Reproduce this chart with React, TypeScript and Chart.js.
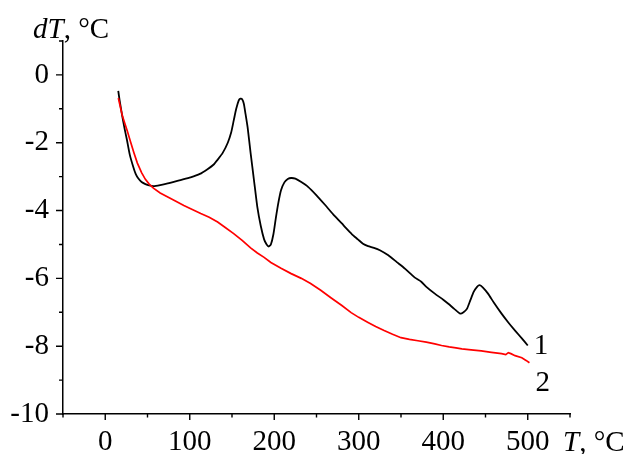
import React, { useEffect, useRef } from "react";
import { Chart, registerables } from "chart.js";

Chart.register(...registerables);

// Curve 1 (black)
const curve1T = [
  15.4, 17, 20, 23, 25.7, 29, 33, 36, 39, 43, 47.5, 52, 57, 65, 74, 89, 101, 112, 121, 128,
  133, 139, 145, 149, 152, 155, 158, 160, 162, 164, 166, 168.5, 172, 176, 180, 184, 188, 191,
  193.5, 196, 199, 202, 205, 208, 212, 216, 220, 225, 232, 240, 250, 260, 270, 280, 285, 292,
  299, 305, 311, 318, 325, 335, 345, 355, 366, 374, 380, 390, 400, 406, 413, 420, 424, 428,
  432, 436, 440, 443, 447, 453, 460, 469, 477, 485, 493, 500,
];
const curve1dT = [
  -0.47, -0.75, -1.2, -1.6, -1.92, -2.35, -2.7, -2.92, -3.05, -3.16, -3.22, -3.26, -3.28, -3.25,
  -3.2, -3.1, -3.02, -2.92, -2.78, -2.65, -2.5, -2.3, -2.0, -1.7, -1.35, -1.0, -0.75, -0.7,
  -0.72, -0.85, -1.15, -1.55, -2.3, -3.1, -3.9, -4.45, -4.85, -5.0, -5.06, -5.0, -4.7, -4.2,
  -3.75, -3.4, -3.17, -3.07, -3.04, -3.06, -3.16, -3.3, -3.55, -3.83, -4.12, -4.38, -4.52,
  -4.7, -4.85, -4.98, -5.05, -5.1, -5.17, -5.32, -5.52, -5.72, -5.97, -6.1, -6.25, -6.45,
  -6.63, -6.75, -6.9, -7.04, -7.0, -6.9, -6.65, -6.4, -6.25, -6.2, -6.27, -6.45, -6.72, -7.04,
  -7.3, -7.54, -7.77, -7.98,
];

// Curve 2 (red)
const curve2T = [
  15.5, 20, 23, 26, 30, 34, 38, 43, 47.5, 52, 57, 65, 74, 83, 93, 103, 113, 123, 133, 142, 152,
  162, 172, 180, 188, 196, 208, 220, 232, 243, 255, 267, 280, 291, 300, 311, 320, 330, 340,
  350, 360, 370, 380, 390, 398, 407, 415, 422, 433, 445, 457, 469, 474, 477, 480, 485, 493,
  498, 502,
];
const curve2dT = [
  -0.68, -1.18, -1.42, -1.65, -1.98, -2.3, -2.6, -2.88, -3.08, -3.22, -3.34, -3.48, -3.6,
  -3.72, -3.85, -3.97, -4.09, -4.2, -4.34, -4.5, -4.68, -4.88, -5.1, -5.25, -5.38, -5.53,
  -5.7, -5.86, -6.0, -6.15, -6.35, -6.57, -6.8, -7.01, -7.15, -7.3, -7.42, -7.54, -7.65,
  -7.75, -7.8, -7.84, -7.88, -7.93, -7.98, -8.02, -8.05, -8.08, -8.11, -8.14, -8.18, -8.22,
  -8.25, -8.19, -8.22, -8.28, -8.34, -8.42, -8.49,
];

const xMajorTicks = [0, 100, 200, 300, 400, 500];
const xMinorTicks = [-50, 50, 150, 250, 350, 450, 550];
const yMajorTicks = [-10, -8, -6, -4, -2, 0];
const yMinorTicks = [-9, -7, -5, -3, -1, 1];

const FONT = '"Liberation Serif", "Times New Roman", serif';
const FS = 29;

const decorPlugin = {
  id: "decor",
  afterDraw(chart: any) {
    const { ctx, chartArea } = chart;
    const x = chart.scales.x;
    const y = chart.scales.y;
    ctx.save();
    ctx.strokeStyle = "#000";
    ctx.lineWidth = 1.4;
    ctx.beginPath();
    const b = chartArea.bottom;
    const l = chartArea.left;
    xMajorTicks.forEach((v) => {
      const p = x.getPixelForValue(v);
      ctx.moveTo(p, b);
      ctx.lineTo(p, b + 6);
    });
    xMinorTicks.forEach((v) => {
      const p = x.getPixelForValue(v);
      ctx.moveTo(p, b);
      ctx.lineTo(p, b + 3.5);
    });
    yMajorTicks.forEach((v) => {
      const p = y.getPixelForValue(v);
      ctx.moveTo(l, p);
      ctx.lineTo(l - 7, p);
    });
    yMinorTicks.forEach((v) => {
      const p = y.getPixelForValue(v);
      ctx.moveTo(l, p);
      ctx.lineTo(l - 4, p);
    });
    ctx.stroke();

    ctx.fillStyle = "#000";
    ctx.textBaseline = "alphabetic";
    ctx.textAlign = "left";
    // Y title
    ctx.font = `italic ${FS}px ${FONT}`;
    ctx.fillText("dT", 33, 38);
    let w = ctx.measureText("dT").width;
    ctx.font = `${FS}px ${FONT}`;
    ctx.fillText(", °C", 33 + w, 38);
    // X title
    ctx.font = `italic ${FS}px ${FONT}`;
    ctx.fillText("T", 563, 451);
    w = ctx.measureText("T").width;
    ctx.font = `${FS}px ${FONT}`;
    ctx.fillText(", °C", 563 + w, 451);
    // Curve labels
    const e1x = x.getPixelForValue(curve1T[curve1T.length - 1]);
    const e1y = y.getPixelForValue(curve1dT[curve1dT.length - 1]);
    ctx.fillText("1", e1x + 6, e1y + 8);
    const e2x = x.getPixelForValue(curve2T[curve2T.length - 1]);
    const e2y = y.getPixelForValue(curve2dT[curve2dT.length - 1]);
    ctx.fillText("2", e2x + 6, e2y + 28);
    ctx.restore();
  },
};

export default function App() {
  const ref = useRef<HTMLCanvasElement | null>(null);
  useEffect(() => {
    if (!ref.current) return;
    const chart = new Chart(ref.current, {
      type: "line",
      data: {
        datasets: [
          {
            data: curve2T.map((t, i) => ({ x: t, y: curve2dT[i] })),
            borderColor: "#ff0000",
            borderWidth: 1.7,
            pointRadius: 0,
            tension: 0,
            order: 0,
          },
          {
            data: curve1T.map((t, i) => ({ x: t, y: curve1dT[i] })),
            borderColor: "#000000",
            borderWidth: 1.8,
            pointRadius: 0,
            tension: 0.2,
            order: 1,
          },
        ],
      },
      options: {
        responsive: false,
        animation: false,
        devicePixelRatio: 1,
        layout: { padding: { top: 41, right: 58, left: 0, bottom: 0 } },
        plugins: { legend: { display: false }, tooltip: { enabled: false }, title: { display: false } },
        scales: {
          x: {
            type: "linear",
            min: -50,
            max: 550,
            afterBuildTicks: (s: any) => {
              s.ticks = xMajorTicks.map((v) => ({ value: v }));
            },
            afterFit: (s: any) => {
              s.height = 40;
            },
            grid: { display: false, drawTicks: false },
            border: { display: true, color: "#000", width: 1.5 },
            ticks: {
              color: "#000",
              font: { family: FONT, size: FS },
              padding: 11,
              maxRotation: 0,
              autoSkip: false,
            },
          },
          y: {
            type: "linear",
            min: -10,
            max: 1,
            afterBuildTicks: (s: any) => {
              s.ticks = yMajorTicks.map((v) => ({ value: v }));
            },
            afterFit: (s: any) => {
              s.width = 63;
            },
            grid: { display: false, drawTicks: false },
            border: { display: true, color: "#000", width: 1.5 },
            ticks: {
              color: "#000",
              font: { family: FONT, size: FS },
              padding: 14,
              autoSkip: false,
              callback: (v: any) => String(v),
            },
          },
        },
      },
      plugins: [decorPlugin],
    });
    return () => chart.destroy();
  }, []);
  return (
    <div style={{ position: "fixed", left: 0, top: 0, width: 628, height: 454, background: "#fff" }}>
      <canvas ref={ref} width={628} height={454} style={{ display: "block" }} />
    </div>
  );
}
